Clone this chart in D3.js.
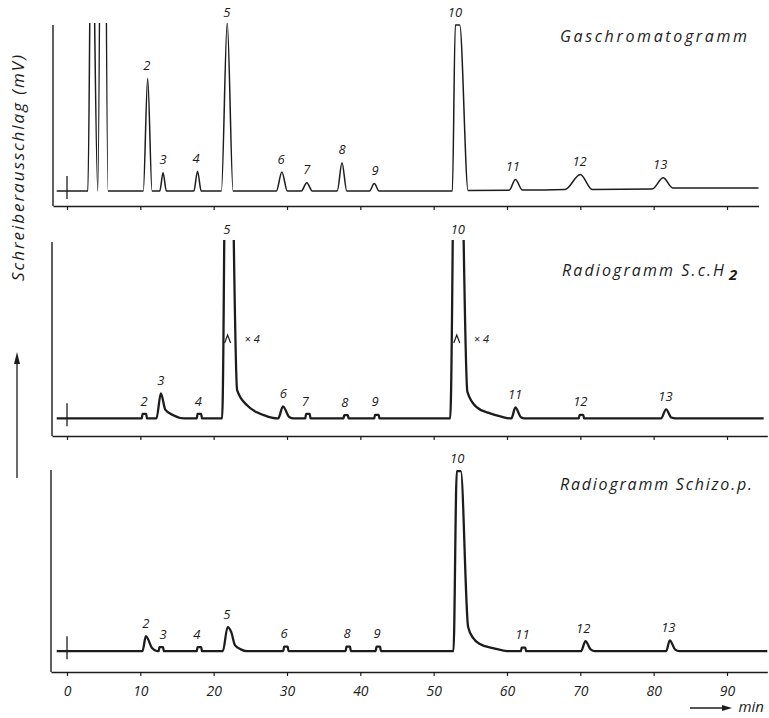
<!DOCTYPE html>
<html>
<head>
<meta charset="utf-8">
<script src="https://cdn.jsdelivr.net/npm/d3@7"></script>
<style>
  body { margin: 0; background: #fff; }
  svg { display: block; }
</style>
</head>
<body>
<div id="chart"></div>
<script>
const width = 769;
const height = 718;

// retention time axis (min)
const timeTicks = [0, 10, 20, 30, 40, 50, 60, 70, 80, 90];

// recorder traces, [min, signal] key points read off the strips
// signal: 0 = baseline, 100 = full scale
const gcTrace = [
  [-1.4, 0], [2.85, 0], [3.35, 200], [4.2, 0], [4.9, 400], [5.6, 0],
  [10.4, 0], [11.0, 68], [11.6, 0],
  [12.65, 0], [13.1, 11], [13.55, 0],
  [17.3, 0], [17.8, 12], [18.3, 0],
  [21.05, 0], [21.85, 101.5], [22.65, 0],
  [28.55, 0], [29.3, 11.5], [30.05, 0],
  [31.95, 0], [32.7, 5], [33.45, 0],
  [36.85, 0], [37.5, 17], [38.15, 0],
  [41.25, 0], [41.9, 4.5], [42.55, 0],
  [52.55, 0], [52.95, 100], [53.55, 100], [54.7, 0.3],
  [60.3, 0.5], [61.15, 7], [62.1, 0.6],
  [67.9, 0.9], [70.0, 10], [71.6, 1.0],
  [79.8, 1.2], [81.3, 8], [82.6, 1.9],
  [94.3, 1.9]
];
const scTrace = [
  [-1.4, 0], [10.2, 0], [10.3, 2.5], [10.8, 2.5], [10.9, 0],
  [12.2, 0], [12.8, 14.2], [13.4, 5], [14.5, 1.8], [16.0, 0],
  [17.7, 0], [17.8, 2.5], [18.3, 2.5], [18.4, 0],
  [21.15, 0], [21.9, 300], [23.2, 16], [24.55, 7.4], [25.9, 3.4], [27.3, 1.1], [28.6, 0],
  [28.8, 0], [29.45, 6.8], [30.3, 0.8], [30.9, 0],
  [32.5, 0], [32.6, 2.5], [33.1, 2.5], [33.2, 0],
  [37.7, 0], [37.8, 1.8], [38.3, 1.8], [38.4, 0],
  [41.9, 0], [42.0, 2], [42.5, 2], [42.6, 0],
  [52.25, 0], [53.15, 300], [54.6, 15], [55.9, 6.2], [57.7, 2.8], [59.1, 1.1], [60.4, 0],
  [60.6, 0], [61.15, 6.2], [61.9, 0.6], [62.4, 0],
  [69.8, 0], [69.9, 2], [70.4, 2], [70.5, 0],
  [81.0, 0], [81.7, 5.1], [82.4, 0.5], [83.0, 0],
  [95.0, 0]
];
const schizoTrace = [
  [-1.4, 0], [10.3, 0], [10.75, 8.3], [11.6, 1.7], [12.3, 0],
  [12.5, 0], [12.6, 2.2], [13.1, 2.2], [13.2, 0],
  [17.7, 0], [17.8, 2.2], [18.3, 2.2], [18.4, 0],
  [21.25, 0], [21.9, 13.3], [22.4, 10.5], [22.9, 3.3], [23.7, 1], [24.5, 0],
  [29.5, 0], [29.6, 2.5], [30.1, 2.5], [30.2, 0],
  [38.0, 0], [38.1, 2.5], [38.6, 2.5], [38.7, 0],
  [42.1, 0], [42.2, 2.5], [42.7, 2.5], [42.8, 0],
  [52.7, 0], [53.15, 99.4], [53.7, 99.4], [54.7, 13.3], [55.4, 7.2], [56.3, 3.9], [58.1, 1.7], [60.5, 0],
  [61.9, 0], [62.0, 2], [62.5, 2], [62.6, 0],
  [70.1, 0], [70.7, 5.5], [71.4, 1], [72.0, 0],
  [81.7, 0], [82.2, 6], [82.9, 1], [83.5, 0],
  [95.5, 0]
];

// peak numbers and where they sit (min)
const gcPeaks = ['2', '3', '4', '5', '6', '7', '8', '9', '10', '11', '12', '13'];
const gcTimes = [10.9, 13.1, 17.6, 21.8, 29.2, 32.7, 37.5, 42.0, 52.9, 60.8, 69.9, 80.9];
const scPeaks = ['2', '3', '4', '5', '6', '7', '8', '9', '10', '11', '12', '13'];
const scTimes = [10.5, 12.8, 17.9, 21.8, 29.5, 32.5, 37.9, 42.0, 53.3, 61.1, 70.0, 81.6];
const schizoPeaks = ['2', '3', '4', '5', '6', '8', '9', '10', '11', '12', '13'];
const schizoTimes = [10.75, 13.1, 17.7, 21.8, 29.6, 38.2, 42.3, 53.2, 62.1, 70.4, 82.0];

// peaks recorded at 1/4 sensitivity in the S.c.H2 radiogram
const attenuatedTimes = [21.9, 53.15];

const canvas = d3.select('#chart')
  .append('svg')
  .attr('width', width)
  .attr('height', height);

const font = '"Open Sans", "DejaVu Sans", sans-serif';
const ink = '#1c1c1c';

const x = d3.scaleLinear().domain([0, 90]).range([67, 727]);

// panel layout
const panels = [
  { trace: gcTrace, names: gcPeaks, times: gcTimes, top: 25, bottom: 206, floor: -9,
    stroke: 1.5, axisLeft: 53, axisEnd: 94.3, title: ['Gaschromatogramm'], titleX: 560, titleY: 42, titleW: 187 },
  { trace: scTrace, names: scPeaks, times: scTimes, top: 242, bottom: 436, floor: -10,
    stroke: 2.3, axisLeft: 52, axisEnd: 95.5, title: ['Radiogramm S.c.H', '2'], titleX: 562, titleY: 276, titleW: 162 },
  { trace: schizoTrace, names: schizoPeaks, times: schizoTimes, top: 470, bottom: 672, floor: -11.5,
    stroke: 2.3, axisLeft: 51, axisEnd: 95.5, title: ['Radiogramm Schizo.p.'], titleX: 560, titleY: 490, titleW: 192 }
];

panels.forEach((p, i) => {
  const y = d3.scaleLinear().domain([p.floor, 100]).range([p.bottom, p.top]);
  const g = canvas.append('g');

  // clip off-scale peaks at the top of the strip
  const clipId = 'clip' + i;
  canvas.append('clipPath').attr('id', clipId)
    .append('rect')
      .attr('x', 0).attr('y', p.top - 2)
      .attr('width', width).attr('height', p.bottom - p.top + 20);

  // left axis line
  g.append('line')
    .attr('x1', p.axisLeft).attr('x2', p.axisLeft)
    .attr('y1', p.top).attr('y2', p.bottom)
    .attr('stroke', ink).attr('stroke-width', 1.4);

  // time axis
  const xa = x.copy().domain([x.invert(p.axisLeft), p.axisEnd]).range([p.axisLeft, x(p.axisEnd)]);
  const axis = g.append('g')
    .attr('transform', `translate(0,${p.bottom})`)
    .call(d3.axisBottom(xa).tickValues(timeTicks).tickSize(4).tickSizeOuter(0).tickPadding(10)
      .tickFormat(i === 2 ? d3.format('d') : ''));
  axis.select('.domain').attr('stroke', ink).attr('stroke-width', 1.4);
  axis.selectAll('.tick line').attr('stroke', ink).attr('stroke-width', 1.2);
  axis.selectAll('.tick text')
    .attr('font-family', font).attr('font-style', 'italic')
    .attr('font-size', 14).attr('fill', ink);

  // injection mark
  g.append('line')
    .attr('x1', x(0)).attr('x2', x(0))
    .attr('y1', y(0) - 15).attr('y2', y(0) + 8)
    .attr('stroke', ink).attr('stroke-width', 1.3);

  // trace
  const line = d3.line()
    .x(d => x(d[0]))
    .y(d => y(d[1]))
    .curve(d3.curveMonotoneX);
  g.append('path')
    .datum(p.trace)
    .attr('clip-path', `url(#${clipId})`)
    .attr('d', line)
    .attr('fill', 'none')
    .attr('stroke', ink)
    .attr('stroke-width', p.stroke)
    .attr('stroke-linejoin', 'round');

  // peak numbers, sitting just above the local maximum of the trace
  const topNear = t => {
    const v = d3.max(p.trace.filter(d => Math.abs(d[0] - t) < 0.9), d => d[1]);
    return Math.min(v === undefined ? 0 : v, 100);
  };
  g.selectAll('text.peak')
    .data(p.names)
    .enter().append('text')
      .attr('class', 'peak')
      .attr('x', (d, j) => x(p.times[j]))
      .attr('y', (d, j) => y(topNear(p.times[j])) - 13)
      .attr('dy', '0.35em')
      .attr('text-anchor', 'middle')
      .attr('font-family', font).attr('font-style', 'italic')
      .attr('font-size', 13).attr('fill', ink)
      .text(d => d);

  // panel title
  const title = g.append('text')
    .attr('x', p.titleX).attr('y', p.titleY)
    .attr('font-family', font).attr('font-style', 'italic')
    .attr('font-size', 16).attr('fill', ink);
  title.append('tspan')
    .attr('textLength', p.titleW).attr('lengthAdjust', 'spacing')
    .text(p.title[0]);
  if (p.title[1]) {
    title.append('tspan').attr('dx', 3).attr('dy', 4)
      .attr('font-size', 15).attr('font-weight', 'bold')
      .text(p.title[1]);
  }

  // attenuation marks (x 4)
  if (i === 1) {
    attenuatedTimes.forEach(t => {
      const cx = x(t), cy = y(45);
      g.append('path')
        .attr('d', `M${cx - 3},${cy + 4}L${cx},${cy - 4}L${cx + 3},${cy + 4}`)
        .attr('fill', 'none').attr('stroke', ink).attr('stroke-width', 1.2);
      g.append('text')
        .attr('x', cx + 17).attr('y', cy).attr('dy', '0.35em')
        .attr('font-family', font).attr('font-style', 'italic')
        .attr('font-size', 11).attr('fill', ink)
        .text('× 4');
    });
  }
});

// y axis label with arrow
canvas.append('text')
  .attr('transform', 'translate(18,168) rotate(-90)')
  .attr('text-anchor', 'middle')
  .attr('dy', '0.35em')
  .attr('font-family', font).attr('font-style', 'italic')
  .attr('font-size', 17).attr('fill', ink)
  .attr('textLength', 226).attr('lengthAdjust', 'spacing')
  .text('Schreiberausschlag (mV)');

canvas.append('line')
  .attr('x1', 17).attr('x2', 17).attr('y1', 478).attr('y2', 362)
  .attr('stroke', ink).attr('stroke-width', 1.3);
canvas.append('path')
  .attr('d', 'M17,352L14,364L20,364Z')
  .attr('fill', ink);

// time arrow
canvas.append('line')
  .attr('x1', 690).attr('x2', 724).attr('y1', 708).attr('y2', 708)
  .attr('stroke', ink).attr('stroke-width', 1.3);
canvas.append('path')
  .attr('d', 'M732,708L722,705L722,711Z')
  .attr('fill', ink);
canvas.append('text')
  .attr('x', 764).attr('y', 712)
  .attr('text-anchor', 'end')
  .attr('font-family', font).attr('font-style', 'italic')
  .attr('font-size', 15).attr('fill', ink)
  .text('min');
</script>
</body>
</html>
